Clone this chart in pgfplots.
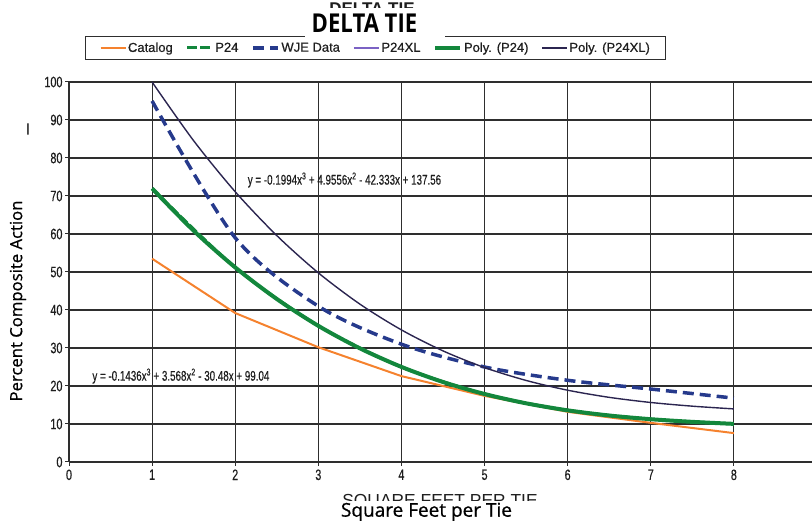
\documentclass[border=0pt]{standalone}
\usepackage{pgfplots}
\pgfplotsset{compat=1.18}
\usepackage{fontspec}
\setmainfont{Liberation Sans}
\newfontfamily\lsb{Liberation Sans}[FakeBold=0.5]
\newfontfamily\opensans{Open Sans}
\newfontfamily\opensemi{Open Sans}[FakeBold=0.8]
\definecolor{cat}{HTML}{F5822E}
\definecolor{pgreen}{HTML}{13873C}
\definecolor{wje}{HTML}{263A8C}
\definecolor{pxl}{HTML}{7B62C4}
\definecolor{polyxl}{HTML}{2B2550}
\definecolor{gridc}{HTML}{2E2E2E}
\definecolor{txt}{HTML}{1E1E1E}
\begin{document}
\begin{tikzpicture}[x=1pt,y=1pt]
\useasboundingbox (0,0) rectangle (812,521);
\begin{axis}[
  at={(69pt,59pt)}, anchor=south west,
  scale only axis, width=748pt, height=380pt,
  xmin=0, xmax=9, ymin=0, ymax=100,
  xtick={0,...,9}, ytick={0,10,...,90},
  extra y ticks={100},
  extra y tick style={grid style={color=blue!30!cyan!40, line width=0.8pt}},
  axis lines=left, axis line style={-, gridc, line width=1.1pt},
  grid=major, major grid style={gridc, line width=1.1pt},
  tick align=outside, major tick length=4pt,
  tick style={gridc, line width=1pt},
  /pgf/number format/assume math mode=true,
  ticklabel style={font=\lsb\fontsize{15}{15}\selectfont, xscale=0.72, text=txt},
  clip=false,
  legend columns=6,
  legend image code/.code={\draw[#1] (0pt,0pt) -- (25pt,0pt);},
  legend style={at={(0.0214,1.121)}, anchor=north west, draw=gridc, line width=1pt,
    font=\lsb\fontsize{13}{13}\selectfont, text=txt, inner xsep=14pt, inner ysep=2pt,
    nodes={inner xsep=1.5pt, inner ysep=4pt},
    /tikz/every even column/.append style={column sep=11.5pt}},
  legend cell align=left,
]
\addplot[cat, line width=2pt] coordinates {(1,53.5)(2,39.2)(3,30.2)(4,22.6)(5,17.4)(6,13.2)(7,10.3)(8,7.6)};
\addlegendentry{Catalog}
\addplot[pgreen, line width=3pt, dash pattern=on 10pt off 3pt, smooth] coordinates {(1,71.98)(2,51.2)(3,35.83)(4,25.02)(5,17.89)(6,13.59)(7,11.26)(8,10.03)};
\addlegendentry{P24}
\addplot[wje, line width=3.5pt, dash pattern=on 11pt off 6pt, smooth] coordinates {(1,95)(2,59)(3,41)(4,31)(5,25)(6,21.5)(7,19.2)(8,16.8)};
\addlegendentry{WJE Data}
\addlegendimage{pxl, line width=2pt}
\addlegendentry{P24XL}
\addplot[pgreen, line width=4pt, smooth] coordinates {(1,71.98)(1.5,60.86)(2,51.2)(2.5,42.90)(3,35.83)(3.5,29.91)(4,25.02)(4.5,21.05)(5,17.89)(5.5,15.44)(6,13.59)(6.5,12.23)(7,11.26)(7.5,10.56)(8,10.03)};
\addlegendentry{Poly. (P24)}
\addplot[polyxl, line width=1.4pt, smooth] coordinates {(1,99.98)(1.5,84.54)(2,71.12)(2.5,59.59)(3,49.78)(3.5,41.55)(4,34.76)(4.5,29.24)(5,24.85)(5.5,21.46)(6,18.89)(6.5,17.01)(7,15.66)(7.5,14.69)(8,13.97)};
\addlegendentry{Poly. (P24XL)}
\node[anchor=west, font=\lsb\fontsize{14}{14}\selectfont, text=txt, xscale=0.7, inner sep=0pt] at (axis cs:2.15,74.2) {y = -0.1994x\textsuperscript{3} + 4.9556x\textsuperscript{2} - 42.333x + 137.56};
\node[anchor=west, font=\lsb\fontsize{14}{14}\selectfont, text=txt, xscale=0.7, inner sep=0pt] at (axis cs:0.28,22.6) {y = -0.1436x\textsuperscript{3} + 3.568x\textsuperscript{2} - 30.48x + 99.04};
\end{axis}
% ghost of the old title and axis title
\node[font=\bfseries\fontsize{17}{17}\selectfont, text=txt] at (372,512) {DELTA TIE};
\node[font=\fontsize{17.4}{17.4}\selectfont, text=txt] at (440,19) {SQUARE FEET PER TIE};
\fill[white] (305,479) rectangle (445,512.5);
\fill[white] (325,0) rectangle (560,19.5);
\node[font=\opensans\bfseries\fontsize{26}{26}\selectfont, xscale=0.85, inner sep=0pt] at (364.5,498) {DELTA TIE};
\node[font=\opensemi\fontsize{16.7}{16.7}\selectfont, rotate=90] at (18,220) {Percent Composite Action};
\node[font=\opensemi\fontsize{19}{19}\selectfont, inner sep=0pt] at (426.5,9) {Square Feet per Tie};
\node[font=\bfseries\fontsize{12}{12}\selectfont, text=txt] at (28,392) {|};
\end{tikzpicture}
\end{document}
